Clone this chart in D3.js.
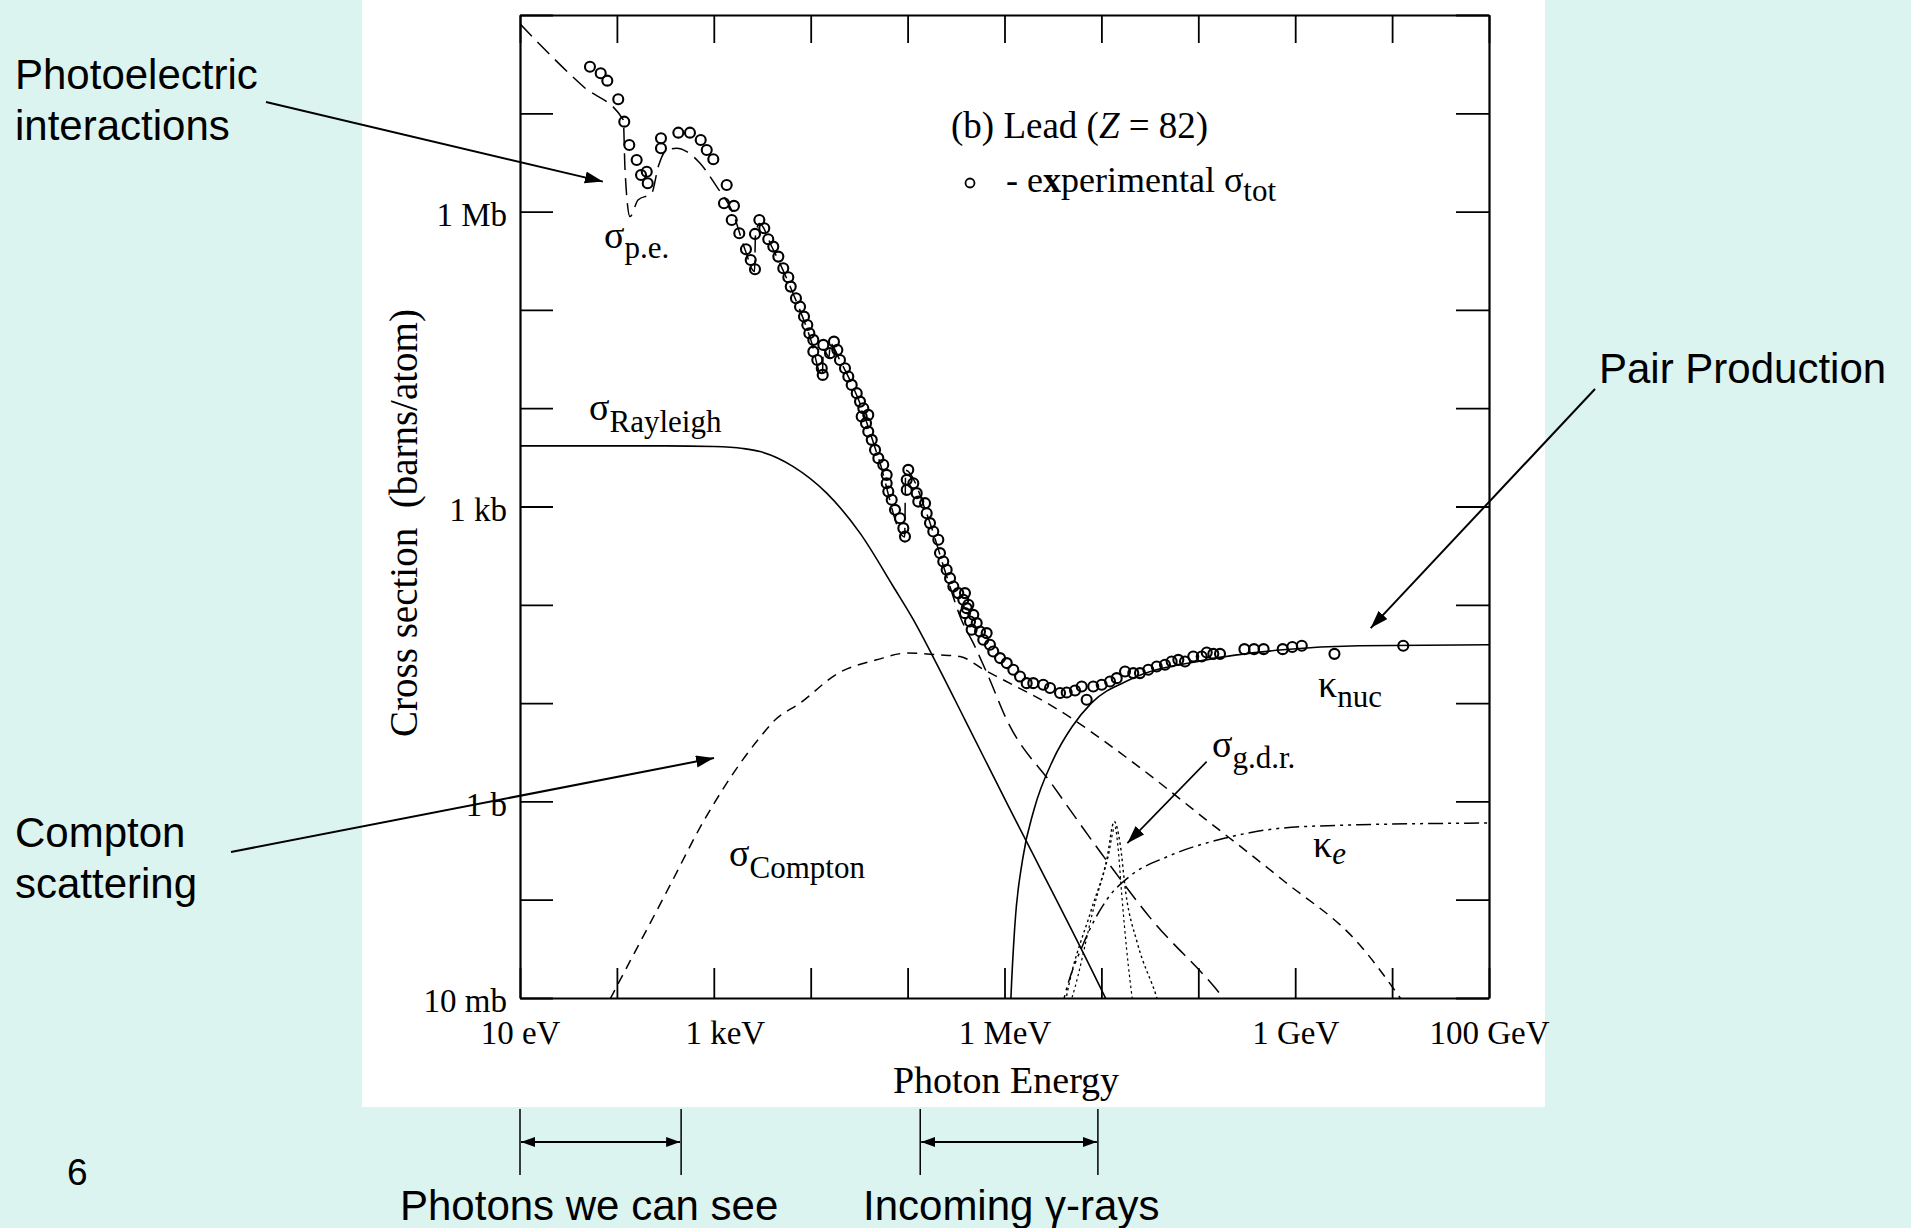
<!DOCTYPE html>
<html>
<head>
<meta charset="utf-8">
<script src="https://cdn.jsdelivr.net/npm/d3@7"></script>
<style>
    html, body { margin: 0; padding: 0; background: #dcf4f0; }
    svg { display: block; }
</style>
</head>
<body>
<div id="chart"></div>
<script>
// values are [log10(E / eV), log10(sigma / barn)]
const experimental = [
    [1.722,7.474],[1.833,7.407],[1.901,7.332],[2.014,7.143],[2.076,6.915],[2.128,6.678],[2.204,6.525],[2.249,6.373],
    [2.308,6.406],[2.318,6.288],[2.455,6.746],[2.455,6.644],[2.634,6.803],[2.754,6.803],[2.865,6.729],[2.927,6.627],
    [2.995,6.532],[3.133,6.271],[3.105,6.085],[3.208,6.058],[3.185,5.915],[3.263,5.780],[3.332,5.617],[3.381,5.508],
    [3.425,5.414],[3.425,5.773],[3.470,5.915],[3.521,5.831],[3.562,5.719],[3.614,5.644],[3.666,5.542],[3.717,5.424],
    [3.769,5.332],[3.794,5.237],[3.848,5.119],[3.890,5.033],[3.931,4.932],[3.965,4.847],[3.986,4.763],
    [4.027,4.695],[4.027,4.576],[4.068,4.491],[4.114,4.407],[4.124,4.339],[4.130,4.644],[4.199,4.560],[4.240,4.677],
    [4.275,4.593],[4.302,4.491],[4.354,4.407],[4.388,4.322],[4.423,4.237],[4.475,4.153],[4.509,4.067],[4.543,4.0],
    [4.526,3.915],[4.594,3.932],[4.571,3.848],[4.594,3.762],[4.630,3.678],[4.664,3.576],[4.698,3.492],[4.749,3.424],
    [4.784,3.322],[4.784,3.237],[4.801,3.152],[4.836,3.068],[4.870,2.966],[4.922,2.881],[4.956,2.780],[4.973,2.694],
    [5.007,3.373],[4.991,3.271],[4.991,3.169],[5.059,3.237],[5.094,3.136],[5.110,3.050],[5.180,3.034],[5.197,2.932],
    [5.231,2.831],[5.265,2.745],[5.317,2.661],[5.334,2.526],[5.368,2.440],[5.403,2.356],[5.438,2.271],[5.472,2.186],
    [5.523,2.119],[5.575,2.051],[5.610,1.966],[5.678,1.898],
    [5.592,2.119],[5.627,2.0],[5.592,1.915],[5.644,1.830],[5.713,1.814],[5.661,1.746],[5.747,1.728],[5.816,1.712],
    [5.781,1.644],[5.850,1.593],[5.884,1.525],[5.954,1.458],[6.023,1.407],[6.091,1.339],[6.160,1.271],[6.229,1.203],
    [6.297,1.203],[6.400,1.186],[6.470,1.153],[6.573,1.102],[6.642,1.108],[6.728,1.128],[6.797,1.169],[6.848,1.034],
    [6.916,1.169],[7.003,1.186],[7.089,1.220],[7.158,1.254],[7.244,1.321],[7.329,1.305],[7.398,1.305],[7.484,1.339],
    [7.571,1.372],[7.656,1.390],[7.725,1.423],[7.794,1.440],[7.863,1.423],[7.948,1.474],[8.035,1.474],[8.087,1.515],
    [8.155,1.501],[8.224,1.501],[8.476,1.549],[8.575,1.549],[8.674,1.549],[8.871,1.549],[8.970,1.570],[9.068,1.583],
    [9.405,1.501],[10.115,1.583]
];

const photoElectric = [
    [1.0,7.91],[1.653,7.272],[2.066,6.932],[2.084,6.423],[2.135,5.949],[2.218,6.118],[2.359,6.187],[2.427,6.458],
    [2.514,6.627],[2.617,6.644],[2.720,6.610],[2.858,6.492],[3.030,6.254],[3.2,5.98],[3.32,5.62],[3.42,5.39],
    [3.43,5.75],[3.47,5.88],[3.6,5.64],[3.8,5.21],[4.0,4.70],[4.12,4.32],[4.13,4.60],[4.19,4.52],[4.20,4.66],
    [4.3,4.49],[4.5,4.07],[4.7,3.49],[4.97,2.69],[4.98,3.37],[5.2,2.92],[5.4,2.30],[5.55,1.86],[5.678,1.61],
    [5.83,1.28],[6.023,0.83],[6.5,0.16],[7.0,-0.53],[7.5,-1.18],[8.25,-1.99],[8.35,-2.12]
];

const compton = [
    [1.93,-2.01],[2.035,-1.814],[2.507,-0.932],[2.903,-0.187],[3.298,0.423],[3.456,0.627],[3.634,0.830],[3.890,1.0],
    [4.286,1.305],[4.680,1.440],[4.997,1.509],[5.314,1.491],[5.541,1.474],[5.788,1.339],[6.0,1.23],[6.5,0.965],
    [7.291,0.423],[8.079,-0.185],[8.871,-0.80],[9.658,-1.45],[10.12,-2.05]
];

const rayleigh = [
    [1.0,3.617],[2.5,3.617],[3.0,3.61],[3.3,3.59],[3.477,3.559],[3.82,3.406],[4.165,3.136],[4.509,2.729],
    [4.852,2.186],[5.059,1.849],[5.3,1.40],[5.592,0.83],[6.0,0.03],[7.034,-1.984],[7.1,-2.12]
];

const kappaNuc = [
    [6.02,-3.5],[6.067,-1.984],[6.106,-1.272],[6.186,-0.594],[6.304,-0.085],[6.501,0.423],[6.699,0.762],
    [6.896,1.0],[7.291,1.237],[8.079,1.44],[8.871,1.542],[9.658,1.583],[11.0,1.593]
];

const kappaE = [
    [6.57,-2.2],[6.620,-1.984],[6.817,-1.441],[7.055,-1.0],[7.291,-0.763],[7.686,-0.560],[8.279,-0.373],
    [8.871,-0.271],[9.658,-0.238],[11.0,-0.220]
];

const gdrOuter = [
    [6.60,-2.2],[6.640,-1.984],[6.896,-1.102],[7.055,-0.594],[7.133,-0.204],[7.192,-0.424],[7.252,-0.932],
    [7.371,-1.441],[7.568,-1.984],[7.62,-2.15]
];
const gdrInner = [
    [6.66,-2.1],[6.70,-1.984],[6.93,-1.05],[7.07,-0.56],[7.14,-0.26],[7.17,-0.45],[7.21,-0.95],[7.26,-1.5],[7.33,-2.1]
];

const xLabelEnergies = [10, 1e3, 1e6, 1e9, 1e11];
const xLabels = ["10 eV", "1 keV", "1 MeV", "1 GeV", "100 GeV"];
const yLabelValues = [1e6, 1e3, 1, 1e-2];
const yLabels = ["1 Mb", "1 kb", "1 b", "10 mb"];

// energy ranges marked under the plot (eV)
const photonsSeen = [10, 460];
const gammaRays = [1.35e5, 9.2e6];

function drawChart() {
    const W = 1911, H = 1228;
    const margin = {top: 15, left: 520};
    const width = 969, height = 983;
    const serif = "Liberation Serif, Times New Roman, serif";
    const sans = "Liberation Sans, Arial, sans-serif";

    const svg = d3.select("#chart")
        .append("svg")
            .attr("width", W)
            .attr("height", H);

    svg.append("rect").attr("width", W).attr("height", H).attr("fill", "#dcf4f0");
    svg.append("rect")
        .attr("x", 362).attr("y", 0)
        .attr("width", 1183).attr("height", 1107)
        .attr("fill", "#ffffff");

    const defs = svg.append("defs");
    defs.append("clipPath").attr("id", "plot-clip")
        .append("rect").attr("width", width).attr("height", height);
    defs.append("marker")
        .attr("id", "head")
        .attr("markerUnits", "userSpaceOnUse")
        .attr("markerWidth", 20).attr("markerHeight", 14)
        .attr("refX", 18).attr("refY", 6)
        .attr("orient", "auto-start-reverse")
        .append("path").attr("d", "M0,0L18,6L0,12Z").attr("fill", "#000");
    defs.append("marker")
        .attr("id", "head-small")
        .attr("markerUnits", "userSpaceOnUse")
        .attr("markerWidth", 16).attr("markerHeight", 12)
        .attr("refX", 14).attr("refY", 5)
        .attr("orient", "auto-start-reverse")
        .append("path").attr("d", "M0,0L14,5L0,10Z").attr("fill", "#000");

    const x = d3.scaleLog().domain([10, 1e11]).range([0, width]);
    const y = d3.scaleLog().domain([1e-2, 1e8]).range([height, 0]);

    const g = svg.append("g")
        .attr("transform", "translate(" + margin.left + "," + margin.top + ")");

    const toPts = arr => arr.map(d => ({e: Math.pow(10, d[0]), s: Math.pow(10, d[1])}));
    const line = d3.line()
        .x(d => x(d.e))
        .y(d => y(d.s))
        .curve(d3.curveMonotoneX);

    const curves = [
        {data: rayleigh, dash: null, w: 1.6},
        {data: photoElectric, dash: "17,8", w: 1.5},
        {data: compton, dash: "10,7", w: 1.5},
        {data: kappaNuc, dash: null, w: 1.6},
        {data: kappaE, dash: "15,5,3,5,3,5", w: 1.5},
        {data: gdrOuter, dash: "2.5,3", w: 1.4},
        {data: gdrInner, dash: "2.5,3", w: 1.2}
    ];

    const curveG = g.append("g").attr("clip-path", "url(#plot-clip)");
    curveG.selectAll(".curve")
        .data(curves)
        .join("path")
            .attr("class", "curve")
            .attr("d", d => line(toPts(d.data)))
            .attr("fill", "none")
            .attr("stroke", "#000")
            .attr("stroke-width", d => d.w)
            .attr("stroke-dasharray", d => d.dash);

    curveG.selectAll(".pt")
        .data(toPts(experimental))
        .join("circle")
            .attr("class", "pt")
            .attr("cx", d => x(d.e))
            .attr("cy", d => y(d.s))
            .attr("r", 5)
            .attr("fill", "none")
            .attr("stroke", "#000")
            .attr("stroke-width", 2.1);

    // axes
    const decadesX = d3.range(1, 12).map(p => Math.pow(10, p));
    const decadesY = d3.range(-2, 9).map(p => Math.pow(10, p));
    const findLabel = (vals, labels) => d => {
        const i = vals.findIndex(v => Math.abs(Math.log10(v / d)) < 1e-6);
        return i >= 0 ? labels[i] : "";
    };

    const styleAxis = sel => {
        sel.select(".domain").attr("stroke-width", 2.2);
        sel.selectAll(".tick line").attr("stroke-width", 1.8);
        sel.selectAll("text")
            .style("font-family", serif)
            .style("font-size", "33px")
            .attr("fill", "#000");
    };

    const xAxis = g.append("g")
        .attr("transform", "translate(0," + height + ")")
        .call(d3.axisBottom(x).tickValues(decadesX).tickSizeInner(-30).tickSizeOuter(0)
            .tickPadding(23).tickFormat(findLabel(xLabelEnergies, xLabels)))
        .call(styleAxis);
    // the keV label sits a little right of its tick in the original
    xAxis.selectAll("text").filter(d => d === 1e3).attr("dx", 11);

    g.append("g")
        .call(d3.axisTop(x).tickValues(decadesX).tickSizeInner(-28).tickSizeOuter(0).tickFormat(""))
        .call(styleAxis);

    g.append("g")
        .call(d3.axisLeft(y).tickValues(decadesY).tickSizeInner(-33).tickSizeOuter(0)
            .tickPadding(13).tickFormat(findLabel(yLabelValues, yLabels)))
        .call(styleAxis)
        .selectAll("text").attr("dy", "0.42em");

    g.append("g")
        .attr("transform", "translate(" + width + ",0)")
        .call(d3.axisRight(y).tickValues(decadesY).tickSizeInner(-33).tickSizeOuter(0).tickFormat(""))
        .call(styleAxis);

    // axis titles
    svg.append("text")
        .attr("x", 1006).attr("y", 1093)
        .attr("text-anchor", "middle")
        .style("font-family", serif).style("font-size", "38px")
        .text("Photon Energy");

    svg.append("text")
        .attr("transform", "translate(417,523) rotate(-90)")
        .attr("text-anchor", "middle")
        .style("font-family", serif).style("font-size", "39px")
        .style("white-space", "pre")
        .text("Cross section  (barns/atom)");

    // curve labels
    const subLabel = (px, py, main, sub, dy, italic) => {
        const t = svg.append("text")
            .attr("x", px).attr("y", py)
            .style("font-family", serif).style("font-size", "38px");
        t.append("tspan").text(main);
        t.append("tspan")
            .attr("dy", dy)
            .style("font-size", "31px")
            .style("font-style", italic ? "italic" : "normal")
            .text(sub);
    };
    subLabel(604, 248, "σ", "p.e.", 10, false);
    subLabel(589, 420, "σ", "Rayleigh", 12, false);
    subLabel(729, 866, "σ", "Compton", 12, false);
    subLabel(1318, 697, "κ", "nuc", 10, false);
    subLabel(1212, 757, "σ", "g.d.r.", 11, false);
    subLabel(1313, 857, "κ", "e", 7, true);

    const title = svg.append("text")
        .attr("x", 951).attr("y", 138)
        .style("font-family", serif).style("font-size", "37px");
    title.append("tspan").text("(b) Lead (");
    title.append("tspan").style("font-style", "italic").text("Z");
    title.append("tspan").text(" = 82)");

    svg.append("circle")
        .attr("cx", 970).attr("cy", 183)
        .attr("r", 4.5)
        .attr("fill", "none").attr("stroke", "#000").attr("stroke-width", 1.8);
    const legend = svg.append("text")
        .attr("x", 1006).attr("y", 192)
        .style("font-family", serif).style("font-size", "36px");
    legend.append("tspan").text("- e");
    legend.append("tspan").style("font-weight", "bold").text("x");
    legend.append("tspan").text("perimental σ");
    legend.append("tspan").attr("dy", 9).style("font-size", "31px").text("tot");

    // annotation arrows
    const px = le => margin.left + x(Math.pow(10, le));
    const py = ls => margin.top + y(Math.pow(10, ls));
    const arrows = [
        {x1: 266, y1: 102, x2: px(1.855), y2: py(6.305), w: 2},
        {x1: 231, y1: 852, x2: px(3.002), y2: py(0.441), w: 2},
        {x1: 1595, y1: 389, x2: px(9.779), y2: py(1.763), w: 2},
        {x1: px(8.086), y1: py(0.405), x2: px(7.268), y2: py(-0.425), w: 1.6}
    ];
    svg.selectAll(".arrow")
        .data(arrows)
        .join("line")
            .attr("class", "arrow")
            .attr("x1", d => d.x1).attr("y1", d => d.y1)
            .attr("x2", d => d.x2).attr("y2", d => d.y2)
            .attr("stroke", "#000")
            .attr("stroke-width", d => d.w)
            .attr("marker-end", "url(#head)");

    const notes = [
        {x: 15, y: 89, t: "Photoelectric"},
        {x: 15, y: 140, t: "interactions"},
        {x: 15, y: 847, t: "Compton"},
        {x: 15, y: 898, t: "scattering"},
        {x: 1599, y: 383, t: "Pair Production"},
        {x: 400, y: 1220, t: "Photons we can see"},
        {x: 863, y: 1220, t: "Incoming γ-rays"}
    ];
    svg.selectAll(".note")
        .data(notes)
        .join("text")
            .attr("class", "note")
            .attr("x", d => d.x).attr("y", d => d.y)
            .style("font-family", sans).style("font-size", "42px")
            .attr("fill", "#000")
            .text(d => d.t);

    svg.append("text")
        .attr("x", 67).attr("y", 1185)
        .style("font-family", sans).style("font-size", "37px")
        .text("6");

    // energy range brackets under the axis
    [photonsSeen, gammaRays].forEach(r => {
        const a = margin.left + x(r[0]), b = margin.left + x(r[1]);
        [a, b].forEach(v => {
            svg.append("line")
                .attr("x1", v).attr("x2", v)
                .attr("y1", 1109).attr("y2", 1175)
                .attr("stroke", "#000").attr("stroke-width", 1.5);
        });
        svg.append("line")
            .attr("x1", a + 1).attr("x2", b - 1)
            .attr("y1", 1142).attr("y2", 1142)
            .attr("stroke", "#000").attr("stroke-width", 2.2)
            .attr("marker-start", "url(#head-small)")
            .attr("marker-end", "url(#head-small)");
    });
}

drawChart();
</script>
</body>
</html>
